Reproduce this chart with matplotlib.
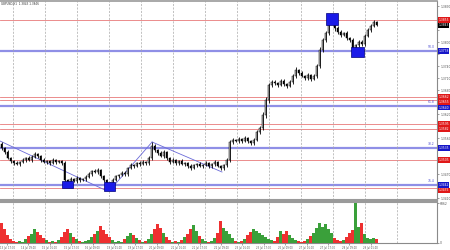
import matplotlib
matplotlib.use("Agg")
import matplotlib.pyplot as plt
import numpy as np
from matplotlib.patches import Rectangle

# ---------------- data ----------------
first_open = 1.3545
closes = [
    1.3535, 1.3525, 1.3510, 1.35025, 1.34975, 1.3495, 1.3500, 1.3505, 1.3510, 1.3505,
    1.35125, 1.3520, 1.3515, 1.3505, 1.3500, 1.35025, 1.34975, 1.3505, 1.3500, 1.35025,
    1.34975, 1.3455, 1.3450, 1.34575, 1.34525, 1.3460, 1.3455, 1.34575, 1.34625, 1.3470,
    1.34775, 1.3475, 1.3480, 1.3465, 1.3455, 1.3445, 1.34375, 1.3455, 1.3465, 1.34675,
    1.34725, 1.3470, 1.3485, 1.34925, 1.3490, 1.34975, 1.3495, 1.3500, 1.34975, 1.3510,
    1.3540, 1.3530, 1.35225, 1.3515, 1.3525, 1.3510, 1.3500, 1.3505, 1.34975, 1.35025,
    1.3495, 1.34975, 1.3490, 1.3485, 1.34925, 1.3495, 1.3490, 1.34925, 1.34975, 1.3490,
    1.3495, 1.3500, 1.3490, 1.3485, 1.34925, 1.3505, 1.3550, 1.3555, 1.35525, 1.35575,
    1.35525, 1.3560, 1.35525, 1.35475, 1.3555, 1.3575, 1.3585, 1.36175, 1.3655, 1.36925,
    1.3700, 1.36975, 1.36925, 1.37025, 1.3695, 1.3690, 1.3700, 1.3715, 1.3730, 1.37225,
    1.3715, 1.3710, 1.37175, 1.37075, 1.3715, 1.3740, 1.3780, 1.3805, 1.38225, 1.3850,
    1.3860, 1.3835, 1.3825, 1.38175, 1.38225, 1.3810, 1.3805, 1.3785, 1.37925, 1.3800,
    1.3795, 1.3815, 1.3830, 1.3840, 1.3850, 1.3843]
upper_wick_pips = [
    5, 3, 4, 3, 2, 4, 3, 4, 3, 5,
    4, 6, 3, 2, 4, 3, 2, 5, 3, 2,
    3, 4, 3, 5, 2, 4, 3, 2, 4, 5,
    3, 4, 6, 3, 2, 3, 4, 5, 3, 2,
    4, 5, 3, 4, 2, 3, 5, 4, 3, 4,
    9, 5, 3, 4, 6, 2, 3, 4, 2, 3,
    4, 2, 3, 5, 3, 2, 4, 3, 5, 2,
    3, 4, 3, 2, 3, 6, 5, 4, 3, 5,
    3, 4, 3, 2, 4, 5, 6, 7, 8, 6,
    5, 4, 3, 6, 4, 3, 5, 4, 7, 3,
    4, 3, 5, 2, 4, 6, 7, 6, 5, 8,
    10, 5, 4, 5, 3, 4, 3, 4, 3, 5,
    4, 5, 6, 4, 5, 3]
lower_wick_pips = [
    4, 5, 3, 4, 5, 3, 4, 3, 4, 3,
    5, 3, 4, 5, 3, 4, 5, 3, 4, 3,
    4, 8, 6, 4, 3, 5, 4, 3, 4, 3,
    4, 3, 5, 4, 5, 6, 8, 4, 3, 4,
    3, 4, 5, 3, 4, 3, 4, 3, 4, 5,
    4, 6, 5, 3, 4, 5, 4, 3, 5, 4,
    3, 4, 5, 4, 3, 5, 3, 4, 3, 4,
    5, 4, 3, 6, 4, 4, 6, 4, 3, 4,
    5, 3, 4, 6, 4, 3, 5, 6, 7, 8,
    6, 4, 5, 3, 4, 5, 3, 4, 5, 4,
    3, 5, 4, 6, 3, 4, 5, 6, 4, 5,
    6, 7, 5, 4, 3, 5, 4, 6, 7, 4,
    5, 4, 3, 4, 3, 4]
volumes = [
    3520, 2460, 1410, 700, 350, 180, 350, 180, 700, 1230,
    1580, 2460, 1940, 1410, 880, 530, 180, 350, 180, 530,
    1060, 1940, 2460, 1760, 1060, 700, 350, 180, 350, 530,
    1060, 1580, 2110, 2990, 2290, 1580, 1060, 530, 180, 350,
    180, 700, 1230, 1760, 1410, 880, 530, 180, 350, 700,
    1580, 2460, 3340, 2640, 1760, 1060, 530, 180, 350, 180,
    530, 1060, 1580, 2460, 3170, 2110, 1230, 700, 350, 180,
    350, 880, 1760, 3700, 2640, 2110, 1580, 880, 350, 180,
    350, 700, 1410, 1940, 2460, 2110, 1760, 1410, 1060, 700,
    530, 350, 1060, 2110, 1580, 2110, 1410, 880, 530, 350,
    180, 350, 700, 1230, 1760, 2640, 3520, 2820, 3340, 2460,
    1760, 880, 530, 350, 530, 1060, 1760, 2290, 6862, 2820,
    3520, 1580, 880, 700, 880, 700]

time_labels = ["13 Jul 17:00", "14 Jul 09:00", "15 Jul 01:00", "15 Jul 17:00",
               "16 Jul 09:00", "19 Jul 01:00", "19 Jul 17:00", "20 Jul 09:00",
               "21 Jul 01:00", "21 Jul 17:00", "22 Jul 09:00", "23 Jul 01:00",
               "23 Jul 17:00", "26 Jul 09:00", "27 Jul 01:00", "27 Jul 17:00",
               "28 Jul 09:00", "29 Jul 01:00"]

price_ticks = [1.3410, 1.3440, 1.3470, 1.3500, 1.3530, 1.3560, 1.3590, 1.3620, 1.3650,
               1.3680, 1.3710, 1.3740, 1.3770, 1.3800, 1.3830, 1.3860, 1.3890]

red_levels = [1.3855, 1.36625, 1.3655, 1.3595, 1.35825, 1.3505, 1.3435]
blue_levels = [1.37775, 1.3640, 1.3535, 1.34425]
blue_level_names = ["50.0", "61.8", "38.2", "76.4"]

# trend lines: (bar0, price0, bar1, price1)
trend_lines = [(-0.5, 1.35525, 34.5, 1.3430),
               (36.2, 1.3430, 50.2, 1.3550),
               (50.2, 1.3550, 73.5, 1.3475)]
# rectangles: (bar_start, bar_end, price_low, price_high)
boxes = [(20.2, 23.8, 1.3435, 1.34525),
         (34.2, 37.8, 1.34275, 1.3450),
         (108.2, 112.2, 1.38425, 1.38725),
         (116.5, 120.8, 1.37625, 1.37875)]

title_text = "GBPUSD,H1  1.3843 1.3846"

# ---------------- figure ----------------
W, H = 450, 250
fig = plt.figure(figsize=(W / 100, H / 100), dpi=100)
fig.patch.set_facecolor("white")
ax = fig.add_axes([0, 1 - 200 / H, 437 / W, 199 / H])
axv = fig.add_axes([0, 1 - 243 / H, 437 / W, 41 / H])

n = len(closes)
x = np.arange(n)
closes_a = np.array(closes)
opens_a = np.array([first_open] + closes[:-1])
highs = np.maximum(opens_a, closes_a) + np.array(upper_wick_pips) * 1e-4
lows = np.minimum(opens_a, closes_a) - np.array(lower_wick_pips) * 1e-4
up = closes_a >= opens_a

xmax = 437 / 3 - 0.5
grid_pos = (13 + 32 * np.arange(13) - 1.5) / 3
label_pos = (7 + 21.4 * np.arange(len(time_labels)) - 1.5) / 3

for a in (ax, axv):
    a.set_xlim(-0.5, xmax)
    a.set_xticks(grid_pos, minor=True)
    a.grid(True, which="minor", axis="x", color="#a8a8a8", linestyle=(0, (3, 2)), linewidth=0.5)
    a.tick_params(which="minor", length=0)
    a.spines["left"].set_visible(False)
    a.spines["right"].set_color("#8a8a8a")
    a.spines["right"].set_linewidth(0.8)
    a.set_facecolor("white")

# main chart
ylo, yhi = 1.3405, 1.39025
ax.set_ylim(ylo, yhi)
ax.set_xticks([])
ax.yaxis.tick_right()
px_per_price = 199 / (yhi - ylo)

# price-level boxes on the axis, stacked so they do not overlap
last = closes[-1]
level_items = ([(p, "#e01818") for p in red_levels] + [(p, "#1515c8") for p in blue_levels]
               + [(last, "black")])
level_items.sort(key=lambda t: -t[0])
box_h = 5.4
placed = []
prev = None
for p, c in level_items:
    ypx = (yhi - p) * px_per_price
    if prev is not None and ypx < prev + box_h:
        ypx = prev + box_h
    placed.append((p, c, ypx))
    prev = ypx

# hide tick labels that sit under a box
tick_labels = []
for t in price_ticks:
    tpx = (yhi - t) * px_per_price
    hidden = any(abs(tpx - ypx) < box_h for _, _, ypx in placed)
    tick_labels.append("" if hidden else f"{t:.4f}")
ax.set_yticks(price_ticks)
ax.set_yticklabels(tick_labels)
ax.tick_params(axis="y", labelsize=2.2, length=1.5, width=0.4, pad=0.8, colors="#555555")
ax.spines["top"].set_color("#9a9a9a")
ax.spines["top"].set_linewidth(1.2)
ax.spines["bottom"].set_color("#9a9a9a")
ax.spines["bottom"].set_linewidth(1.5)

for p in red_levels:
    ax.axhline(p, color="#e87a7a", linewidth=0.6, zorder=1)
for p, name in zip(blue_levels, blue_level_names):
    ax.axhline(p, color="#8f8fe6", linewidth=1.6, zorder=1)
    ax.annotate(name, xy=(1.0, p), xycoords=("axes fraction", "data"),
                xytext=(-1.5, 1.2), textcoords="offset points", ha="right", va="bottom",
                fontsize=2.2, color="#4a4ad0", annotation_clip=False, zorder=6)

for p, c, ypx in placed:
    shift_pt = -(ypx - (yhi - p) * px_per_price) * 0.72
    ax.annotate(f"{p:.4f}", xy=(1.0, p), xycoords=("axes fraction", "data"),
                xytext=(1.0, shift_pt), textcoords="offset points", ha="left", va="center",
                fontsize=2.2, color="white", annotation_clip=False,
                bbox=dict(boxstyle="square,pad=0.2", fc=c, ec="none"), zorder=7)

for x0, p0, x1, p1 in trend_lines:
    ax.plot([x0, x1], [p0, p1], color="#6a6ad8", linewidth=0.6, zorder=2)

# candles
body_w = 0.62
ax.vlines(x, lows, highs, color="black", linewidth=0.6, zorder=3)
for i in range(n):
    lo = min(opens_a[i], closes_a[i])
    hgt = max(abs(closes_a[i] - opens_a[i]), 0.00004)
    ax.add_patch(Rectangle((x[i] - body_w / 2, lo), body_w, hgt,
                           facecolor="white" if up[i] else "black",
                           edgecolor="black", linewidth=0.35, zorder=4))

for b0, b1, p0, p1 in boxes:
    ax.add_patch(Rectangle((b0, p0), b1 - b0, p1 - p0, facecolor="#1a1ae8",
                           edgecolor="#00007a", linewidth=0.5, zorder=5))

fig.text(0.003, 0.993, title_text, fontsize=2.0, color="#333333", ha="left", va="top")

# volume panel
vcolors = np.where(up, "#3aa03a", "#ee3030")
axv.bar(x, volumes, width=0.72, color=vcolors, zorder=3)
axv.set_ylim(0, 7050)
axv.yaxis.tick_right()
axv.set_yticks([0, 6862])
axv.set_yticklabels(["0", "6862"])
axv.tick_params(axis="y", labelsize=2.2, length=1.5, width=0.4, pad=0.8, colors="#555555")
axv.spines["top"].set_color("#9a9a9a")
axv.spines["top"].set_linewidth(1.5)
axv.spines["bottom"].set_color("#8a8a8a")
axv.spines["bottom"].set_linewidth(0.8)
axv.set_xticks(label_pos)
axv.set_xticklabels(time_labels)
axv.tick_params(axis="x", which="major", labelsize=1.8, length=1.2, width=0.4, pad=0.6,
                colors="#555555")

fig.savefig("out.png", dpi=100, facecolor="white")
